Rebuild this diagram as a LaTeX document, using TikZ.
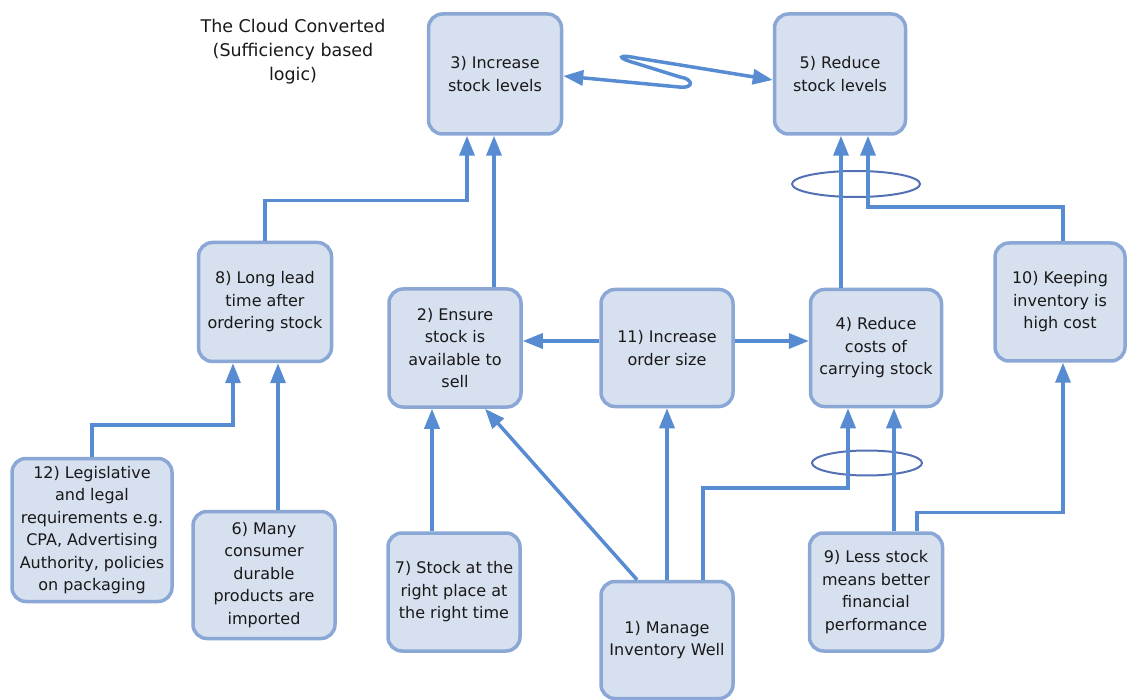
\documentclass[tikz,border=0pt]{standalone}
\usepackage{fontspec}
\setmainfont{DejaVu Sans}
\usepackage{tikz}
\usetikzlibrary{arrows.meta,shapes.geometric}
\definecolor{linkblue}{RGB}{88,140,210}
\definecolor{boxfill}{RGB}{215,224,238}
\definecolor{boxline}{RGB}{138,167,214}
\definecolor{ringblue}{RGB}{84,112,180}

\begin{document}
\begin{tikzpicture}[x=1pt,y=-1pt,font=\fontsize{16}{22.5}\selectfont,
  >={Triangle[length=20pt,width=15pt]},
  box/.style={draw=boxline,line width=3.5pt,rounded corners=14pt,fill=boxfill,
              align=center,inner sep=2pt,text=black!90},
  arr/.style={->,draw=linkblue,line width=3.5pt},
  ring/.style={ellipse,draw=ringblue,line width=2pt,inner sep=0pt}]
 \useasboundingbox (0,0) rectangle (1127,700);
 \node[align=center,font=\fontsize{17.5}{24}\selectfont,text=black!90] (title) at (293,52)
   {The Cloud Converted\\(Sufficiency based\\logic)};
 % top row
 \node[box,minimum width=133pt,minimum height=120pt] (b3) at (495,74) {3) Increase\\stock levels};
 \node[box,minimum width=131pt,minimum height=120pt] (b5) at (840,74) {5) Reduce\\stock levels};
 % middle row
 \node[box,minimum width=133pt,minimum height=119pt] (b8) at (265,302) {8) Long lead\\time after\\ordering stock};
 \node[box,minimum width=132pt,minimum height=118pt] (b2) at (455,348) {2) Ensure\\stock is\\available to\\sell};
 \node[box,minimum width=132pt,minimum height=117pt] (b11) at (667,348) {11) Increase\\order size};
 \node[box,minimum width=131pt,minimum height=117pt] (b4) at (876,348) {4) Reduce\\costs of\\carrying stock};
 \node[box,minimum width=130pt,minimum height=118pt] (b10) at (1060,302) {10) Keeping\\inventory is\\high cost};
 % bottom row
 \node[box,minimum width=160pt,minimum height=143pt] (b12) at (92,530) {12) Legislative\\and legal\\requirements e.g.\\CPA, Advertising\\Authority, policies\\on packaging};
 \node[box,minimum width=142pt,minimum height=127pt] (b6) at (264,575) {6) Many\\consumer\\durable\\products are\\imported};
 \node[box,minimum width=132pt,minimum height=118pt] (b7) at (454,592) {7) Stock at the\\right place at\\the right time};
 \node[box,minimum width=132pt,minimum height=117pt] (b1) at (667,640) {1) Manage\\Inventory Well};
 \node[box,minimum width=133pt,minimum height=118pt] (b9) at (876,592) {9) Less stock\\means better\\financial\\performance};
 % rings round the paired arrows
 \node[ring,minimum width=128pt,minimum height=26pt] (r1) at (856,184) {};
 \node[ring,minimum width=110pt,minimum height=25pt] (r2) at (867,463) {};
 % links
 \draw[arr] (b8.north) -- ++(0,-40) -| ([xshift=-28pt]b3.south);
 \draw[arr] ([xshift=39pt]b2.north) -- ([xshift=-1pt]b3.south);
 \draw[arr] ([xshift=-35pt]b4.north) -- ([xshift=1pt]b5.south);
 \draw[arr] ([xshift=3pt]b10.north) -- ++(0,-34) -| ([xshift=28pt]b5.south);
 \draw[arr] (b12.north) -- ++(0,-32) -| ([xshift=-32pt]b8.south);
 \draw[arr] ([xshift=14pt]b6.north) -- ([xshift=13pt]b8.south);
 \draw[arr] ([xshift=-22pt]b7.north) -- ([xshift=-23pt]b2.south);
 \draw[arr] ([xshift=-30pt]b1.north) -- ([xshift=30pt]b2.south);
 \draw[arr] (b1.north) -- (b11.south);
 \draw[arr] ([xshift=36pt]b1.north) -- ++(0,-92) -| ([xshift=-28pt]b4.south);
 \draw[arr] ([xshift=18pt]b9.north) -- ([xshift=18pt]b4.south);
 \draw[arr] ([xshift=41pt]b9.north) -- ++(0,-19) -| ([xshift=3pt]b10.south);
 \draw[arr] ([yshift=7pt]b11.west) -- ([yshift=7pt]b2.east);
 \draw[arr] ([yshift=7pt]b11.east) -- ([yshift=7pt]b4.west);
 % conflict squiggle
 \draw[arr,<->] ([yshift=-2pt]b3.east) -- (679,87) .. controls (694,89) and (694,79) .. (680,77)
   -- (635,63) .. controls (617,58) and (617,54) .. (637,58) -- ([yshift=-6pt]b5.west);
\end{tikzpicture}
\end{document}
